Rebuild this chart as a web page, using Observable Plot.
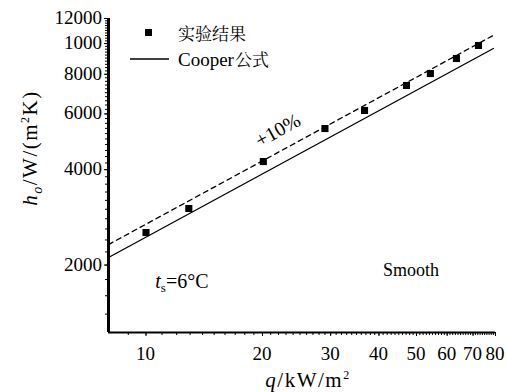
<!DOCTYPE html>
<html><head><meta charset="utf-8">
<script src="https://cdn.jsdelivr.net/npm/d3@7"></script>
<script src="https://cdn.jsdelivr.net/npm/@observablehq/plot@0.6"></script>
<style>body{margin:0;background:#fff}#chart{position:relative;width:507px;height:392px}
#overlay{position:absolute;left:0;top:0;pointer-events:none}</style>
</head><body><div id="chart"></div>
<script>
// experimental data (实验结果)
const expQ = [10.0, 12.9, 20.1, 29.0, 36.7, 47.1, 54.3, 63.4, 72.3];
const expH = [2533, 3016, 4243, 5394, 6150, 7375, 8044, 8973, 9863];
// Cooper correlation (solid) and +10% line (dashed), endpoints
const cooperQ = [8, 79];
const cooperH = [2112, 9650];
const plus10Q = [8, 79];
const plus10H = [2321, 10615];
// axes
const xDomain = [8, 80];
const yDomain = [1225, 12000];
const xTicks = [10, 20, 30, 40, 50, 60, 70, 80];
const yTicks = [2000, 4000, 6000, 8000, 10000, 12000];
const yTickLabels = ["2000", "4000", "6000", "8000", "1000", "12000"];
const xMinorTicks = d3.range(9, 81);
const yMinorTicks = d3.range(1400, 12001, 200);
// annotations
const annoPlus = {q: 22.4, h: 5316, text: "+10%"};
const annoSmooth = {q: 48.5, h: 1921, text: "Smooth"};
const annoTs = {q: 10.6, h: 1761};

const exp = expQ.map((q, i) => ({q, h: expH[i]}));
const cooper = cooperQ.map((q, i) => ({q, h: cooperH[i]}));
const plus10 = plus10Q.map((q, i) => ({q, h: plus10H[i]}));

const SERIF = "Liberation Serif";
const CJK = "Noto Serif CJK SC";

const plot = Plot.plot({
  width: 507, height: 392,
  marginLeft: 108, marginRight: 12, marginTop: 18, marginBottom: 60,
  style: {fontFamily: SERIF, fontSize: "19px", color: "#000", background: "#fff", overflow: "visible"},
  x: {type: "log", domain: xDomain},
  y: {type: "log", domain: yDomain},
  marks: [
    Plot.axisX({ticks: xMinorTicks, tickSize: 3, text: null, label: null}),
    Plot.axisX({ticks: xTicks, tickSize: 4, text: null, label: null}),
    Plot.axisY({ticks: yMinorTicks, tickSize: 3, text: null, label: null}),
    Plot.axisY({ticks: yTicks, tickSize: 4, text: null, label: null}),
    Plot.ruleX([xDomain[0]], {strokeWidth: 3}),
    Plot.ruleY([yDomain[0]], {strokeWidth: 2}),
    Plot.line(cooper, {x: "q", y: "h", stroke: "#000", strokeWidth: 1.3}),
    Plot.line(plus10, {x: "q", y: "h", stroke: "#000", strokeWidth: 1.3, strokeDasharray: "5,4"}),
    Plot.dot(exp, {x: "q", y: "h", symbol: "square", r: 4, fill: "#000", stroke: "none"})
  ]
});
const chart = document.getElementById("chart");
chart.appendChild(plot);

const sx = plot.scale("x"), sy = plot.scale("y");

// overlay svg for all texts (positions from Plot's scales)
const ov = d3.select(chart).append("svg").attr("id", "overlay")
  .attr("width", 507).attr("height", 392)
  .attr("font-family", SERIF).attr("fill", "#000");

// tick labels
ov.selectAll("text.xt").data(xTicks).join("text").attr("class", "xt")
  .attr("x", d => sx.apply(d)).attr("y", 360)
  .attr("text-anchor", "middle").attr("font-size", 19).text(d => String(d));
ov.selectAll("text.yt").data(yTicks).join("text").attr("class", "yt")
  .attr("x", 102).attr("y", d => sy.apply(d) + 6)
  .attr("text-anchor", "end").attr("font-size", 19).text((d, i) => yTickLabels[i]);

// +10% and Smooth
ov.append("text").attr("text-anchor", "middle").attr("font-size", 20)
  .attr("transform", `translate(${sx.apply(annoPlus.q)},${sy.apply(annoPlus.h) + 6}) rotate(-29)`)
  .text(annoPlus.text);
ov.append("text").attr("text-anchor", "middle").attr("font-size", 18)
  .attr("x", sx.apply(annoSmooth.q)).attr("y", sy.apply(annoSmooth.h) + 6).text(annoSmooth.text);

// t_s = 6°C
const ts = ov.append("text")
  .attr("x", sx.apply(annoTs.q)).attr("y", sy.apply(annoTs.h) + 6).attr("font-size", 20);
ts.append("tspan").attr("font-style", "italic").text("t");
ts.append("tspan").attr("font-size", 13).attr("dy", 4).text("s");
ts.append("tspan").attr("dy", -4).text("=6°C");

// legend
ov.append("rect").attr("x", 145).attr("y", 29).attr("width", 7).attr("height", 7);
ov.append("text").attr("font-family", CJK).attr("x", 178).attr("y", 40).attr("font-size", 17).text("实验结果");
ov.append("line").attr("x1", 130).attr("x2", 169).attr("y1", 59).attr("y2", 59)
  .attr("stroke", "#000").attr("stroke-width", 1.3);
const ct = ov.append("text").attr("x", 178).attr("y", 66).attr("font-size", 19);
ct.append("tspan").text("Cooper");
ct.append("tspan").attr("font-family", CJK).attr("font-size", 17).attr("dx", 1).text("公式");

// y-axis title
const yl = ov.append("text")
  .attr("transform", "translate(37,148) rotate(-90)")
  .attr("text-anchor", "middle").attr("font-size", 21).attr("letter-spacing", 1.5);
yl.append("tspan").attr("font-style", "italic").text("h");
yl.append("tspan").attr("font-style", "italic").attr("font-size", 14).attr("dy", 5).text("o");
yl.append("tspan").attr("dy", -5).text("/W/(m");
yl.append("tspan").attr("font-size", 12).attr("dy", -8).text("2");
yl.append("tspan").attr("dy", 8).text("K)");

// x-axis title
const xl = ov.append("text")
  .attr("x", 308).attr("y", 387).attr("text-anchor", "middle")
  .attr("font-size", 21).attr("letter-spacing", 1.5);
xl.append("tspan").attr("font-style", "italic").text("q");
xl.append("tspan").text("/kW/m");
xl.append("tspan").attr("font-size", 12).attr("dy", -8).text("2");
</script>
</body></html>
